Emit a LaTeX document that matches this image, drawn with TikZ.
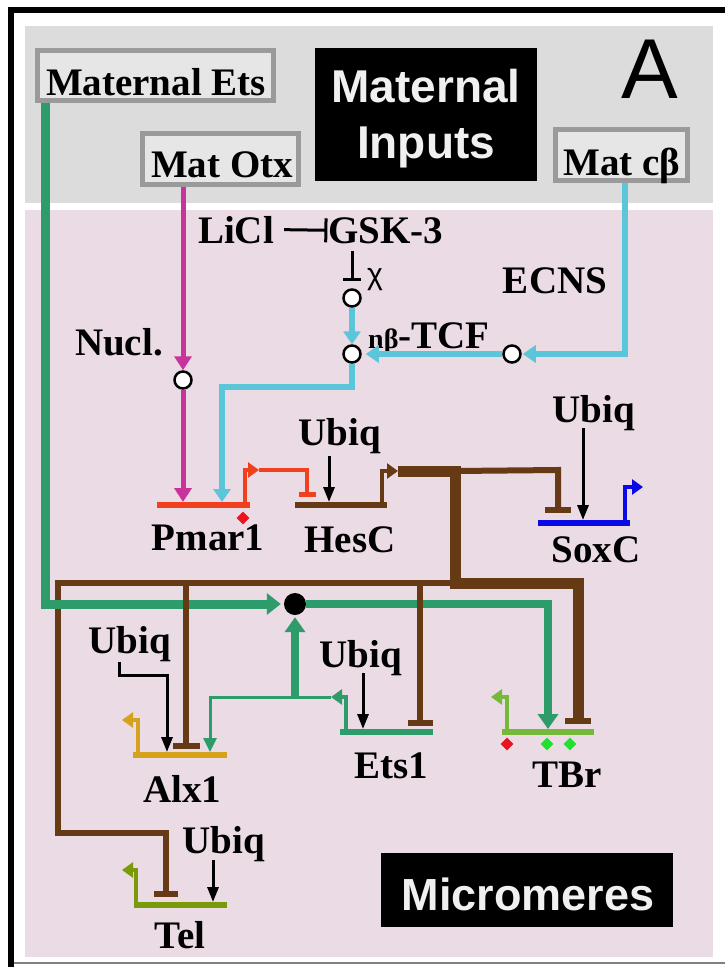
\documentclass[tikz,border=0pt]{standalone}
\usepackage{fontspec}
\setmainfont{Liberation Serif}
\setsansfont{Liberation Sans}
\usetikzlibrary{arrows.meta,shapes.geometric}
\definecolor{pinkbg}{HTML}{EADBE5}
\definecolor{graybg}{HTML}{DCDCDC}
\definecolor{boxfill}{HTML}{E6E6E6}
\definecolor{boxline}{HTML}{9A9A9A}
\definecolor{etsg}{HTML}{2E9B6B}
\definecolor{tbrg}{HTML}{76B83A}
\definecolor{telg}{HTML}{7A9A0A}
\definecolor{alxc}{HTML}{D6A21E}
\definecolor{pmarc}{HTML}{F0401E}
\definecolor{brownc}{HTML}{663A14}
\definecolor{soxc}{HTML}{0A0AE6}
\definecolor{cyanc}{HTML}{5BC5DA}
\definecolor{magc}{HTML}{C8349B}
\definecolor{dred}{HTML}{E8141E}
\definecolor{dgreen}{HTML}{22E02E}
\definecolor{wtext}{HTML}{F0F0F0}
\begin{document}
\begin{tikzpicture}[x=1pt,y=-1pt,
  lab/.style={font=\fontsize{39}{39}\selectfont\bfseries, anchor=base, inner sep=0pt},
  sflab/.style={font=\sffamily\bfseries\fontsize{46}{46}\selectfont, text=wtext, anchor=base, inner sep=0pt},
  mbox/.style={draw=boxline, fill=boxfill, line width=5pt, inner sep=0pt},
  blk/.style={fill=black, inner sep=0pt},
  hole/.style={circle, draw=black, fill=white, line width=2.5pt, minimum size=17pt, inner sep=0pt},
  gene/.style={line width=6pt},
  prom/.style={line width=4.5pt, -{Triangle[length=11pt,width=15pt]}},
  ubq/.style={draw=black, line width=3pt, -{Triangle[length=15pt,width=11pt]}},
  rep/.style={-{Bar[width=#1,line width=6pt]}},
  dia/.style={diamond, inner sep=0pt, minimum size=13pt},
  cyanarr/.style={draw=cyanc, line width=6pt, -{Triangle[length=13pt,width=17pt]}},
  magarr/.style={draw=magc, line width=5pt, -{Triangle[length=14pt,width=17pt]}},
]
\useasboundingbox (0,0) rectangle (725,967);
% backgrounds
\fill[white] (0,0) rectangle (725,967);
\fill[graybg] (25,26) rectangle (713,203);
\fill[pinkbg] (25,210) rectangle (713,957);
\draw[line width=6pt] (11,967) -- (11,10) -- (725,10);
\draw[gray, line width=1.5pt] (14,963) -- (725,963);

% maternal inputs area
\node[mbox, minimum width=236pt, minimum height=50pt] (mets) at (155.5,75.5) {};
\node[lab] (metsT) at (156,95) {Maternal Ets};
\node[mbox, minimum width=156pt, minimum height=51pt] (motx) at (220.5,159) {};
\node[lab] (motxT) at (222,177) {Mat Otx};
\node[mbox, minimum width=132pt, minimum height=51pt] (mcb) at (621.5,155) {};
\node[lab] (mcbT) at (622,175) {Mat cβ};
\node[blk, minimum width=222pt, minimum height=133pt] (minp) at (426,114.5) {};
\node[sflab] (minp1) at (426,102) {Maternal};
\node[sflab] (minp2) at (426,158) {Inputs};
\node[font=\sffamily\fontsize{85}{85}\selectfont, anchor=base, inner sep=0pt] (lbA) at (650,98) {A};

% micromeres label
\node[blk, minimum width=292pt, minimum height=74pt] (micro) at (527,890) {};
\node[sflab, font=\sffamily\bfseries\fontsize{45}{45}\selectfont] (microT) at (528,910) {Micromeres};

% text labels
\node[lab] (licl) at (236,243) {LiCl};
\node[lab] (gsk) at (386,243) {GSK-3};
\node[lab] (nucl) at (119,355) {Nucl.};
\node[lab] (ecns) at (555,293) {ECNS};
\node[lab, anchor=base west] (tcf) at (368,348) {{\fontsize{28}{28}\selectfont nβ}-TCF};
\node[font=\sffamily\fontsize{30}{30}\selectfont, anchor=base, inner sep=0pt] (chi) at (375,284) {χ};
\node[lab] (ubH) at (340,445) {Ubiq};
\node[lab] (ubS) at (594,422) {Ubiq};
\node[lab] (ubA) at (130,653) {Ubiq};
\node[lab] (ubE) at (361,667) {Ubiq};
\node[lab] (ubT) at (224,853) {Ubiq};
\node[lab] (lPmar) at (208,550) {Pmar1};
\node[lab] (lHes) at (350,552) {HesC};
\node[lab] (lSox) at (596,562) {SoxC};
\node[lab] (lAlx) at (182,802) {Alx1};
\node[lab] (lEts) at (391,778) {Ets1};
\node[lab] (lTbr) at (567,787) {TBr};
\node[lab] (lTel) at (180,948) {Tel};

% small circles and junction dot
\node[hole] (cnuc) at (183,380) {};
\node[hole] (cgx) at (352,298) {};
\node[hole] (ctcf) at (352,354) {};
\node[hole] (cecns) at (512,354) {};

% coordinates
\coordinate (cbv) at (625,354);
\coordinate (gskb) at (352,251);
\coordinate (gske) at (352,281);
\coordinate (cyc1) at (352,387);
\coordinate (cyc2) at (222,387);
\coordinate (pmCy) at (222,502);
\coordinate (pmMg) at (183,502);
% genes
\coordinate (pmA) at (157,505); \coordinate (pmB) at (250,505);
\coordinate (pmP) at (245,505); \coordinate (pmP1) at (245,470); \coordinate (pmP2) at (259,470);
\coordinate (pmR1) at (307,470); \coordinate (pmR2) at (307,497);
\coordinate (hcA) at (295,505); \coordinate (hcB) at (387,505);
\coordinate (hcP) at (382,505); \coordinate (hcP1) at (382,471); \coordinate (hcP2) at (398,471);
\coordinate (hcU1) at (329,456); \coordinate (hcU2) at (329,502);
\coordinate (bj1) at (455,471); \coordinate (bj2) at (455,583);
\coordinate (sxR1) at (558,470); \coordinate (sxR2) at (558,513);
\coordinate (sxA) at (538,523); \coordinate (sxB) at (630,523);
\coordinate (sxP) at (625,523); \coordinate (sxP1) at (625,487); \coordinate (sxP2) at (643,487);
\coordinate (sxU1) at (583,428); \coordinate (sxU2) at (583,520);
\coordinate (tbR1) at (578,583); \coordinate (tbR2) at (578,724);
\coordinate (lb1) at (58,583); \coordinate (lb2) at (58,833); \coordinate (lb3) at (166,833); \coordinate (lb4) at (166,897);
\coordinate (axR1) at (186,583); \coordinate (axR2) at (186,749);
\coordinate (etR1) at (420,583); \coordinate (etR2) at (420,726);
\coordinate (metsv) at (45,101);
\coordinate (etsC) at (548,604); \coordinate (etsC2) at (548,729);
\coordinate (ej) at (295,697);
\coordinate (etA) at (340,732); \coordinate (etB) at (433,732);
\coordinate (etP) at (346,732); \coordinate (etP1) at (346,697); \coordinate (etP2) at (331,697);
\coordinate (tg1) at (210,697); \coordinate (tg2) at (210,752);
\coordinate (etU1) at (363,673); \coordinate (etU2) at (363,729);
\coordinate (axA) at (133,755); \coordinate (axB) at (227,755);
\coordinate (axP) at (138,755); \coordinate (axP1) at (138,720); \coordinate (axP2) at (122,720);
\coordinate (axU0) at (119,662); \coordinate (axU1) at (119,675); \coordinate (axU2) at (167,675); \coordinate (axU3) at (167,752);
\coordinate (tbA) at (502,732); \coordinate (tbB) at (594,732);
\coordinate (tbP) at (507,732); \coordinate (tbP1) at (507,697); \coordinate (tbP2) at (491,697);
\coordinate (tlA) at (134,905); \coordinate (tlB) at (227,905);
\coordinate (tlP) at (136,905); \coordinate (tlP1) at (136,870); \coordinate (tlP2) at (122,870);
\coordinate (tlU1) at (213,860); \coordinate (tlU2) at (213,902);

% magenta (Mat Otx)
\draw[magarr] (motx.south -| cnuc) -- (cnuc.north);
\draw[magarr] (cnuc.south) -- (pmMg);

% cyan (beta-catenin)
\draw[cyanarr, shorten >=1pt] (mcb.south -| cbv) -- (cbv) -- (cecns.east);
\draw[cyanarr, shorten >=4pt] (cecns.west) -- (ctcf.east);
\draw[cyanarr] (cgx.south) -- (ctcf.north);
\draw[cyanarr, line join=miter] (ctcf.south) -- (cyc1) -- (cyc2) -- (pmCy);

% LiCl / GSK-3
\draw[black, line width=3pt, -{Bar[width=24pt,line width=3pt]}] ([xshift=10pt]licl.east) -- ([xshift=-1pt]gsk.west);
\draw[black, line width=3pt, -{Bar[width=18pt,line width=3pt]}] (gskb) -- (gske);

% Pmar1
\draw[pmarc, gene] (pmA) -- (pmB);
\draw[pmarc, prom] (pmP) -- (pmP1) -- (pmP2);
\draw[pmarc, line width=4pt, -{Bar[width=17pt,line width=5pt]}] (pmP2) -- (pmR1) -- (pmR2);
\node[dia, fill=dred] (dPm) at (243,518) {};

% HesC
\draw[brownc, gene] (hcA) -- (hcB);
\draw[brownc, prom] (hcP) -- (hcP1) -- (hcP2);
\draw[ubq] (hcU1) -- (hcU2);

% SoxC
\draw[soxc, gene] (sxA) -- (sxB);
\draw[soxc, prom] (sxP) -- (sxP1) -- (sxP2);
\draw[ubq] (sxU1) -- (sxU2);

% brown network (HesC output)
\draw[brownc, line width=6pt, line join=miter, rep=26pt] (bj1) -- (sxR1) -- (sxR2);
\draw[brownc, line width=6pt, line join=miter, rep=24pt] (bj2) -- (lb1) -- (lb2) -- (lb3) -- (lb4);
\draw[brownc, line width=11pt, line join=miter, rep=26pt] (hcP2) -- (bj1) -- (bj2) -- (tbR1) -- (tbR2);

% green (Ets) network
\node[circle, fill=black, minimum size=22pt, inner sep=0pt] (dot) at (295,604) {};
\draw[etsg, line width=9pt, line join=miter, -{Triangle[length=14pt,width=21pt]}] (mets.south -| metsv) |- ([xshift=-3pt]dot.west);
\draw[etsg, line width=8pt, line join=miter, -{Triangle[length=15pt,width=20pt]}] (dot.east) -- (etsC) -- (etsC2);
\draw[etsg, line width=8pt, -{Triangle[length=15pt,width=20pt]}] (ej) -- ([yshift=-2pt]dot.south);
\draw[etsg, line width=3pt, line join=miter, -{Triangle[length=14pt,width=13pt]}] (etP2) -- (tg1) -- (tg2);

% brown branches to Alx1 and Ets1
\draw[brownc, line width=6pt, rep=27pt] (axR1) -- (axR2);
\draw[brownc, line width=6pt, rep=25pt] (etR1) -- (etR2);

% Ets1
\draw[etsg, gene] (etA) -- (etB);
\draw[etsg, prom] (etP) -- (etP1) -- (etP2);
\draw[ubq] (etU1) -- (etU2);

% Alx1
\draw[alxc, gene] (axA) -- (axB);
\draw[alxc, prom] (axP) -- (axP1) -- (axP2);
\draw[ubq] (axU0) -- (axU1) -- (axU2) -- (axU3);

% TBr
\draw[tbrg, gene] (tbA) -- (tbB);
\draw[tbrg, prom] (tbP) -- (tbP1) -- (tbP2);
\node[dia, fill=dred] (dT1) at (507,744) {};
\node[dia, fill=dgreen] (dT2) at (547,744) {};
\node[dia, fill=dgreen] (dT3) at (570,744) {};

% Tel
\draw[telg, gene] (tlA) -- (tlB);
\draw[telg, prom] (tlP) -- (tlP1) -- (tlP2);
\draw[ubq] (tlU1) -- (tlU2);
\end{tikzpicture}
\end{document}
